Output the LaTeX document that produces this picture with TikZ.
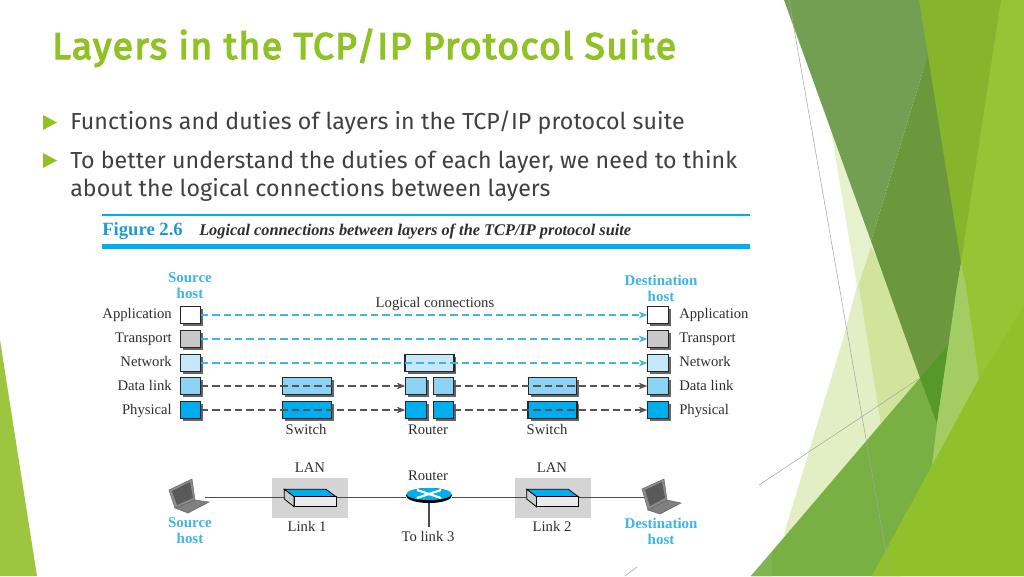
\documentclass[tikz,border=0pt]{standalone}
\usepackage{fontspec}
\usetikzlibrary{arrows.meta,shadows,shapes.geometric}
\setmainfont{Liberation Serif}
\newfontfamily\slidefont[LetterSpace=0.4]{Fira Sans}
\newfontfamily\titlefont[LetterSpace=3.8,FakeBold=3.5]{Fira Sans}
\definecolor{accent}{HTML}{90C226}
\definecolor{bodytext}{HTML}{404040}
\definecolor{figblue}{HTML}{00AEEF}
\definecolor{hostblue}{HTML}{3DB5E6}
\definecolor{captionblue}{HTML}{1E9AD6}
\definecolor{labelink}{HTML}{2E2E2E}
\definecolor{boxnet}{HTML}{C7E8FA}
\definecolor{boxlink}{HTML}{8DD3F5}
\definecolor{boxphy}{HTML}{00AEEF}
\definecolor{boxtra}{HTML}{C8C8C8}
\definecolor{dashgrey}{HTML}{555555}
\tikzset{
  x=0.75pt,y=-0.75pt,
  lay/.style={draw=black!85,line width=.75pt,inner sep=0pt,
    drop shadow={shadow xshift=1.8pt,shadow yshift=-1.8pt,fill=black!60,opacity=1}},
  hostbox/.style={lay,minimum width=15.2pt,minimum height=12.4pt},
  widebox/.style={lay,minimum width=36.5pt,minimum height=12.6pt},
  wideboxthick/.style={widebox,line width=1.2pt},
  figlabel/.style={font=\fontsize{11}{13}\selectfont,text=labelink,inner sep=0pt,text height=8pt,text depth=2pt},
  hostlabel/.style={font=\fontsize{11.2}{12}\selectfont\bfseries,text=hostblue,inner sep=0pt,align=center},
  dashcyan/.style={hostblue,line width=1.25pt,dash pattern=on 5.5pt off 3pt,-{Stealth[length=6.5pt,width=5pt]}},
  dashdark/.style={dashgrey,line width=1.25pt,dash pattern=on 5.5pt off 3pt,-{Stealth[length=6.5pt,width=5pt]}},
  wire/.style={draw=black!70,line width=.9pt},
  lanbg/.style={fill=black!17,draw=none,minimum width=57pt,minimum height=30pt,inner sep=0pt},
  slidetext/.style={font=\fontsize{17.4}{20}\slidefont,text=bodytext,inner sep=0pt,anchor=base west},
  thinrule/.style={draw=black!35,line width=.4pt}
}
\begin{document}
\begin{tikzpicture}
\useasboundingbox (0,0) rectangle (1024,576);
\fill[white] (0,0) rectangle (1024,576);
% background facets
\fill[color={rgb,255:red,157;green,197;blue,63}] (0,340) -- (37,576) -- (0,576) -- cycle;
\fill[color={rgb,255:red,230;green,241;blue,205}] (831,130) -- (857,286) -- (880,300) -- (880,200) -- cycle;
\fill[color={rgb,255:red,226;green,238;blue,196}] (857,286) -- (844,336) -- (784,534) -- (800,545) -- (930,400) -- (900,286) -- cycle;
\fill[color={rgb,255:red,208;green,229;blue,155}] (859,286) -- (857,290) -- (871,247) -- (895,290) -- (925,385) -- (881,425) -- cycle;
\fill[color={rgb,255:red,134;green,181;blue,45}] (915,0) -- (1005,0) -- (965,270) -- (950,270) -- cycle;
\fill[color={rgb,255:red,107;green,152;blue,61}] (927.8,55) -- (961,263) -- (937,424) -- (920,378) -- (871,241) -- cycle;
\fill[color={rgb,255:red,115;green,159;blue,82}] (784,0) -- (919,0) -- (927.8,55) -- (871,241) -- cycle;
\fill[color={rgb,255:red,120;green,176;blue,67}] (751,576) -- (920,378) -- (937,424) -- (945,440) -- (900,576) -- cycle;
\fill[color={rgb,255:red,128;green,182;blue,80}] (751,576) -- (772,552) -- (772,576) -- cycle;
\fill[color={rgb,255:red,86;green,152;blue,42}] (920,378) -- (949,344) -- (937,424) -- cycle;
\fill[color={rgb,255:red,151;green,196;blue,52}] (1001,0) -- (1024,0) -- (1024,576) -- (872,576) -- (932,466) -- (937,424) -- (961,263) -- cycle;
\fill[color={rgb,255:red,163;green,204;blue,99}] (961,263) -- (966,286) -- (979,379) -- (932,466) -- (937,424) -- (957,286) -- cycle;
\fill[color={rgb,255:red,144;green,193;blue,42}] (1024,306) -- (1024,576) -- (872,576) -- (979,379) -- cycle;
\draw[thinrule] (789,0) -- (890,576);
\draw[thinrule] (759,485) -- (920,378);
\draw[thinrule] (625,576) -- (637,567);
% title and bullets
\node[font=\fontsize{28}{30}\titlefont,text=accent,inner sep=0pt,anchor=base west] (title) at (52,59) {Layers in the TCP/IP Protocol Suite};
\fill[accent] (43,115) -- (57,122.5) -- (43,130) -- cycle;
\fill[accent] (43,153) -- (57,160.5) -- (43,168) -- cycle;
\node[slidetext] (b1) at (70,129) {Functions and duties of layers in the TCP/IP protocol suite};
\node[slidetext] (b2) at (70,168) {To better understand the duties of each layer, we need to think};
\node[slidetext] (b3) at (70,196) {about the logical connections between layers};
% figure header
\draw[figblue,line width=1.5pt] (102,215) -- (750,215);
\fill[figblue] (102,244) rectangle (750,249);
\node[font=\fontsize{14}{14}\selectfont\bfseries,text=captionblue,inner sep=0pt,anchor=base west] (fig) at (102,235) {Figure 2.6};
\node[font=\fontsize{12.25}{14}\selectfont\bfseries\itshape,text=labelink,inner sep=0pt,anchor=base west] (cap) at (199,235) {Logical connections between layers of the TCP/IP protocol suite};
% host labels
\node[hostlabel] (srctop) at (190,286) {Source\\host};
\node[hostlabel] (dsttop) at (661,288) {Destination\\host};
\node[figlabel] (logic) at (435,303) {Logical connections};
% source stack
\node[hostbox,fill=white] (sa) at (190.5,315) {};
\node[hostbox,fill=boxtra] (st) at (190.5,339) {};
\node[hostbox,fill=boxnet] (sn) at (190.5,363) {};
\node[hostbox,fill=boxlink] (sd) at (190.5,386) {};
\node[hostbox,fill=boxphy] (sp) at (190.5,410) {};
% destination stack
\node[hostbox,fill=white] (da) at (658,315) {};
\node[hostbox,fill=boxtra] (dt) at (658,339) {};
\node[hostbox,fill=boxnet] (dn) at (658,363) {};
\node[hostbox,fill=boxlink] (dd) at (658,386) {};
\node[hostbox,fill=boxphy] (dp) at (658,410) {};
% switches and router
\node[widebox,fill=boxlink] (s1d) at (307,386) {};
\node[wideboxthick,fill=boxphy] (s1p) at (307,410) {};
\node[widebox,fill=boxlink] (s2d) at (552.5,386) {};
\node[wideboxthick,fill=boxphy] (s2p) at (552.5,410) {};
\node[wideboxthick,fill=boxnet] (rn) at (429.5,363) {};
\node[hostbox,fill=boxlink] (rd1) at (416,386) {};
\node[hostbox,fill=boxlink] (rd2) at (443.5,386) {};
\node[hostbox,fill=boxphy] (rp1) at (416,410) {};
\node[hostbox,fill=boxphy] (rp2) at (443.5,410) {};
% left labels
\foreach \nm/\tx/\yy in {la/Application/314,lt/Transport/338,ln/Network/362,ld/Data link/386,lp/Physical/410}
  \node[figlabel,anchor=east] (\nm) at (172,\yy) {\tx};
\foreach \nm/\tx/\yy in {ra/Application/314,rt/Transport/338,rn2/Network/362,rd/Data link/386,rp/Physical/410}
  \node[figlabel,anchor=west] (\nm) at (679,\yy) {\tx};
\node[figlabel] (sw1) at (306,430) {Switch};
\node[figlabel] (rt1) at (428,430) {Router};
\node[figlabel] (sw2) at (547,430) {Switch};
% logical connections
\draw[dashcyan] (sa.east) -- (da.west);
\draw[dashcyan] (st.east) -- (dt.west);
\draw[dashcyan] (sn.east) -- (dn.west);
\draw[dashdark] (sd.east) -- (rd1.west);
\draw[dashdark] (sp.east) -- (rp1.west);
\draw[dashdark] (rd2.east) -- (dd.west);
\draw[dashdark] (rp2.east) -- (dp.west);
% lower network
\node[lanbg] (lan1) at (310,498) {};
\node[lanbg] (lan2) at (552.5,498) {};
\node[figlabel] (lan1t) at (310,468) {LAN};
\node[figlabel] (lan2t) at (552,468) {LAN};
\node[figlabel] (rtop) at (428,476) {Router};
\node[figlabel] (l1) at (307,527) {Link 1};
\node[figlabel] (l2) at (552,527) {Link 2};
\node[figlabel] (tl3) at (428,537) {To link 3};
\node[hostlabel] (srcb) at (190,531) {Source\\host};
\node[hostlabel] (dstb) at (661,531) {Destination\\host};
\coordinate (lapL) at (205,497.5);
\coordinate (lapR) at (645,497.5);
\node[ellipse,fill=black,minimum width=34.5pt,minimum height=11.3pt,inner sep=0pt] (rbase) at (429,495.5) {};
\draw[wire] (lapL) -- (lapL -| rbase.west);
\draw[wire] (lapR -| rbase.east) -- (lapR);
\draw[wire,shorten >=2pt] (rbase.south) -- (rbase.south |- tl3.north);
\node[ellipse,fill=boxphy,minimum width=34pt,minimum height=9pt,inner sep=0pt] (rtopell) at (429,494) {};
\draw[white,line width=1.6pt] (417,490) -- (441,498) (417,498) -- (441,490);
% switch boxes
\foreach \dx in {0,242.4}{
  \begin{scope}[shift={(\dx,0)}]
  \fill[boxphy,draw=black,line width=.6pt] (284.3,489.3) -- (326,489.3) -- (336,496.7) -- (294,496.7) -- cycle;
  \fill[black!8,draw=black,line width=.6pt] (294,496.7) -- (336,496.7) -- (336,506.7) -- (294,506.7) -- cycle;
  \fill[black!20,draw=black,line width=.6pt] (284.3,489.3) -- (294,496.7) -- (294,506.7) -- (284.3,499) -- cycle;
  \end{scope}
}
% laptops
\fill[black!45,draw=black!60,line width=.4pt] (169,490) -- (192,479) -- (195,500) -- (175,508) -- cycle;
\fill[black!65] (172,491) -- (190,482) -- (193,498) -- (177,505) -- cycle;
\fill[black!50,draw=black!60,line width=.4pt] (175,508) -- (195,500) -- (209,502) -- (188,513) -- cycle;
\fill[black!45,draw=black!60,line width=.4pt] (642,489) -- (664,479) -- (667,500) -- (648,510) -- cycle;
\fill[black!65] (645,490) -- (662,482) -- (665,498) -- (650,506) -- cycle;
\fill[black!50,draw=black!60,line width=.4pt] (648,510) -- (667,500) -- (681,503) -- (660,514) -- cycle;
\end{tikzpicture}
\end{document}
